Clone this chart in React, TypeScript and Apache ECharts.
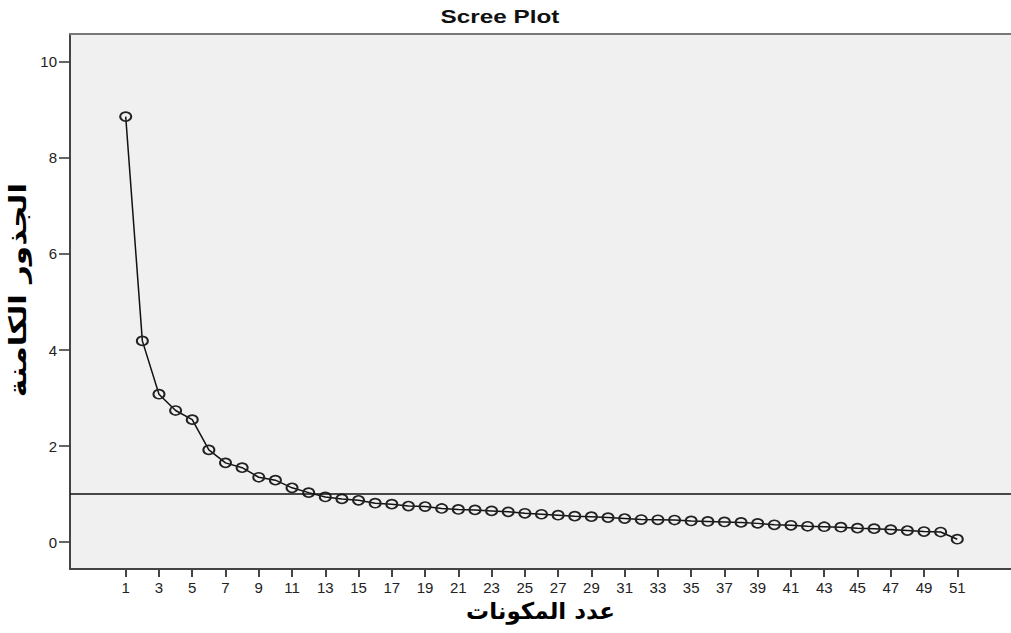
import React, { useEffect, useRef } from "react";
import * as echarts from "echarts";

const components = [
  1, 2, 3, 4, 5, 6, 7, 8, 9, 10, 11, 12, 13, 14, 15, 16, 17, 18, 19, 20, 21, 22, 23, 24, 25, 26,
  27, 28, 29, 30, 31, 32, 33, 34, 35, 36, 37, 38, 39, 40, 41, 42, 43, 44, 45, 46, 47, 48, 49, 50, 51,
];
const eigenvalues = [
  8.86, 4.19, 3.08, 2.74, 2.55, 1.92, 1.65, 1.55, 1.35, 1.29, 1.13, 1.03, 0.94, 0.9, 0.87, 0.81,
  0.79, 0.75, 0.74, 0.7, 0.68, 0.67, 0.65, 0.63, 0.6, 0.58, 0.56, 0.54, 0.53, 0.51, 0.49, 0.47,
  0.465, 0.46, 0.44, 0.43, 0.42, 0.41, 0.39, 0.36, 0.35, 0.33, 0.32, 0.31, 0.29, 0.28, 0.26, 0.24,
  0.22, 0.21, 0.06,
];
const xTickValues = [
  1, 3, 5, 7, 9, 11, 13, 15, 17, 19, 21, 23, 25, 27, 29, 31, 33, 35, 37, 39, 41, 43, 45, 47, 49, 51,
];
const yTickValues = [0, 2, 4, 6, 8, 10];
const referenceValue = 1;
const titleText = "Scree Plot";
const xTitle = "عدد المكونات";
const yTitle = "الجذور الكامنة";

export default function App() {
  const ref = useRef<HTMLDivElement>(null);
  useEffect(() => {
    if (!ref.current) return;
    const chart = echarts.init(ref.current, undefined, { renderer: "svg" });
    const labelColor = "#222";
    chart.setOption({
      animation: false,
      backgroundColor: "#ffffff",
      grid: {
        left: 70,
        top: 34,
        right: 0,
        bottom: 64,
        show: true,
        backgroundColor: "#f0f0f0",
        borderWidth: 0,
      },
      graphic: [
        {
          type: "text",
          x: 500,
          y: 17,
          scaleX: 1.35,
          style: {
            text: titleText,
            font: "bold 18px 'Liberation Sans', Arial, sans-serif",
            fill: "#111",
            align: "center",
            verticalAlign: "middle",
          },
        },
        {
          type: "text",
          x: 18,
          y: 290,
          rotation: Math.PI / 2,
          scaleX: 1.3,
          style: {
            text: yTitle,
            font: "bold 24px 'DejaVu Sans', sans-serif",
            fill: "#000",
            align: "center",
            verticalAlign: "middle",
          },
        },
      ],
      xAxis: [
        {
          type: "value",
          min: -2.35,
          max: 54.23,
          position: "bottom",
          name: xTitle,
          nameLocation: "middle",
          nameGap: 22,
          nameTextStyle: {
            fontFamily: "'DejaVu Sans', sans-serif",
            fontWeight: "bold",
            fontSize: 23,
            color: "#000",
          },
          splitLine: { show: false },
          axisLine: { show: true, onZero: false, lineStyle: { color: "#444", width: 2 } },
          axisTick: {
            show: true,
            length: 8,
            customValues: xTickValues,
            lineStyle: { color: "#444", width: 2 },
          },
          axisLabel: {
            show: true,
            customValues: xTickValues,
            margin: 11,
            fontSize: 15,
            fontFamily: "'Liberation Sans', Arial, sans-serif",
            color: labelColor,
            formatter: (v: number) => String(v),
          },
        },
        {
          type: "value",
          min: -2.35,
          max: 54.23,
          position: "top",
          splitLine: { show: false },
          axisLine: { show: true, onZero: false, lineStyle: { color: "#777", width: 2 } },
          axisTick: { show: false },
          axisLabel: { show: false },
        },
      ],
      yAxis: {
        type: "value",
        min: -0.56,
        max: 10.58,
        splitLine: { show: false },
        axisLine: { show: true, onZero: false, lineStyle: { color: "#444", width: 2 } },
        axisTick: {
          show: true,
          length: 11,
          customValues: yTickValues,
          lineStyle: { color: "#333", width: 1.5 },
        },
        axisLabel: {
          show: true,
          customValues: yTickValues,
          margin: 13,
          fontSize: 15,
          fontFamily: "'Liberation Sans', Arial, sans-serif",
          color: labelColor,
          formatter: (v: number) => String(v),
        },
      },
      series: [
        {
          type: "line",
          xAxisIndex: 0,
          data: components.map((c, i) => [c, eigenvalues[i]]),
          symbol: "circle",
          symbolSize: [11, 9],
          itemStyle: { color: "transparent", borderColor: "#222", borderWidth: 1.8 },
          lineStyle: { color: "#111", width: 1.5 },
          markLine: {
            silent: true,
            symbol: "none",
            label: { show: false },
            lineStyle: { color: "#111", width: 1.5, type: "solid" },
            data: [{ yAxis: referenceValue }],
          },
        },
      ],
    });
    return () => chart.dispose();
  }, []);
  return (
    <div
      ref={ref}
      style={{ position: "fixed", left: 0, top: 0, width: 1011, height: 633 }}
    />
  );
}
